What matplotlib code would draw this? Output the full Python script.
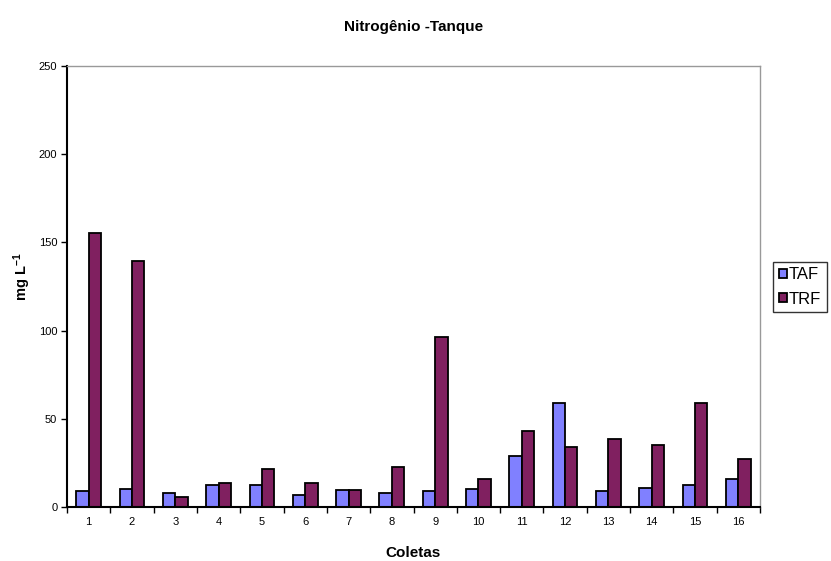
import matplotlib
matplotlib.use("Agg")
import matplotlib.pyplot as plt
import numpy as np

plt.rcParams['font.family'] = ['Liberation Sans', 'DejaVu Sans']
plt.rcParams['mathtext.fontset'] = 'custom'
plt.rcParams['mathtext.rm'] = 'Liberation Sans'
plt.rcParams['mathtext.bf'] = 'Liberation Sans:bold'

coletas = [str(i) for i in range(1, 17)]
taf = [9, 10, 8, 12.5, 12.5, 7, 9.5, 8, 9, 10, 29, 59, 9, 11, 12.5, 15.8]
trf = [155.5, 139.5, 5.7, 13.5, 21.5, 13.5, 9.5, 22.5, 96.5, 16, 43, 33.8, 38.3, 35, 59, 27.3]

fig = plt.figure(figsize=(8.31, 5.61), dpi=100)
ax = fig.add_axes([67/831, 1 - 507/561, (760-67)/831, (507-66)/561])

x = np.arange(len(coletas))
w = 0.286
ax.bar(x - w/2, taf, w, color='#8080FF', edgecolor='black', linewidth=1.3, label='TAF')
ax.bar(x + w/2, trf, w, color='#802060', edgecolor='black', linewidth=1.3, label='TRF')

ax.set_xlim(-0.5, len(coletas) - 0.5)
ax.set_ylim(0, 250)
ax.set_yticks([0, 50, 100, 150, 200, 250])
ax.tick_params(axis='y', direction='out', length=4, width=1, labelsize=8, pad=3)
ax.set_xticks(x)
ax.set_xticklabels(coletas, fontsize=8)
ax.tick_params(axis='x', length=0, pad=7)
ax.set_xticks(np.arange(-0.5, len(coletas) + 0.5, 1), minor=True)
ax.tick_params(axis='x', which='minor', direction='out', length=4, width=1)

for s in ['left', 'bottom']:
    ax.spines[s].set_color('black')
    ax.spines[s].set_linewidth(1.5)
for s in ['top', 'right']:
    ax.spines[s].set_color('#999999')
    ax.spines[s].set_linewidth(1)

ax.set_xlabel('Coletas', fontsize=11, fontweight='bold', labelpad=14)
ax.set_ylabel(r'$\mathbf{mg\ L^{-1}}$', fontsize=10.5)
ax.yaxis.set_label_coords(-0.049, 0.522)
fig.text(414/831, 1 - 27/561, 'Nitrogênio -Tanque', ha='center', va='center',
         fontsize=11, fontweight='bold')

leg = fig.legend(loc='center left', bbox_to_anchor=(773/831, 1 - 287/561),
                 fontsize=12, frameon=True, fancybox=False, edgecolor='black',
                 handlelength=0.5, handleheight=0.5, handletextpad=0.08,
                 borderpad=0.35, labelspacing=0.55, borderaxespad=0)
leg.get_frame().set_linewidth(1)

fig.savefig('out.png', dpi=100)
